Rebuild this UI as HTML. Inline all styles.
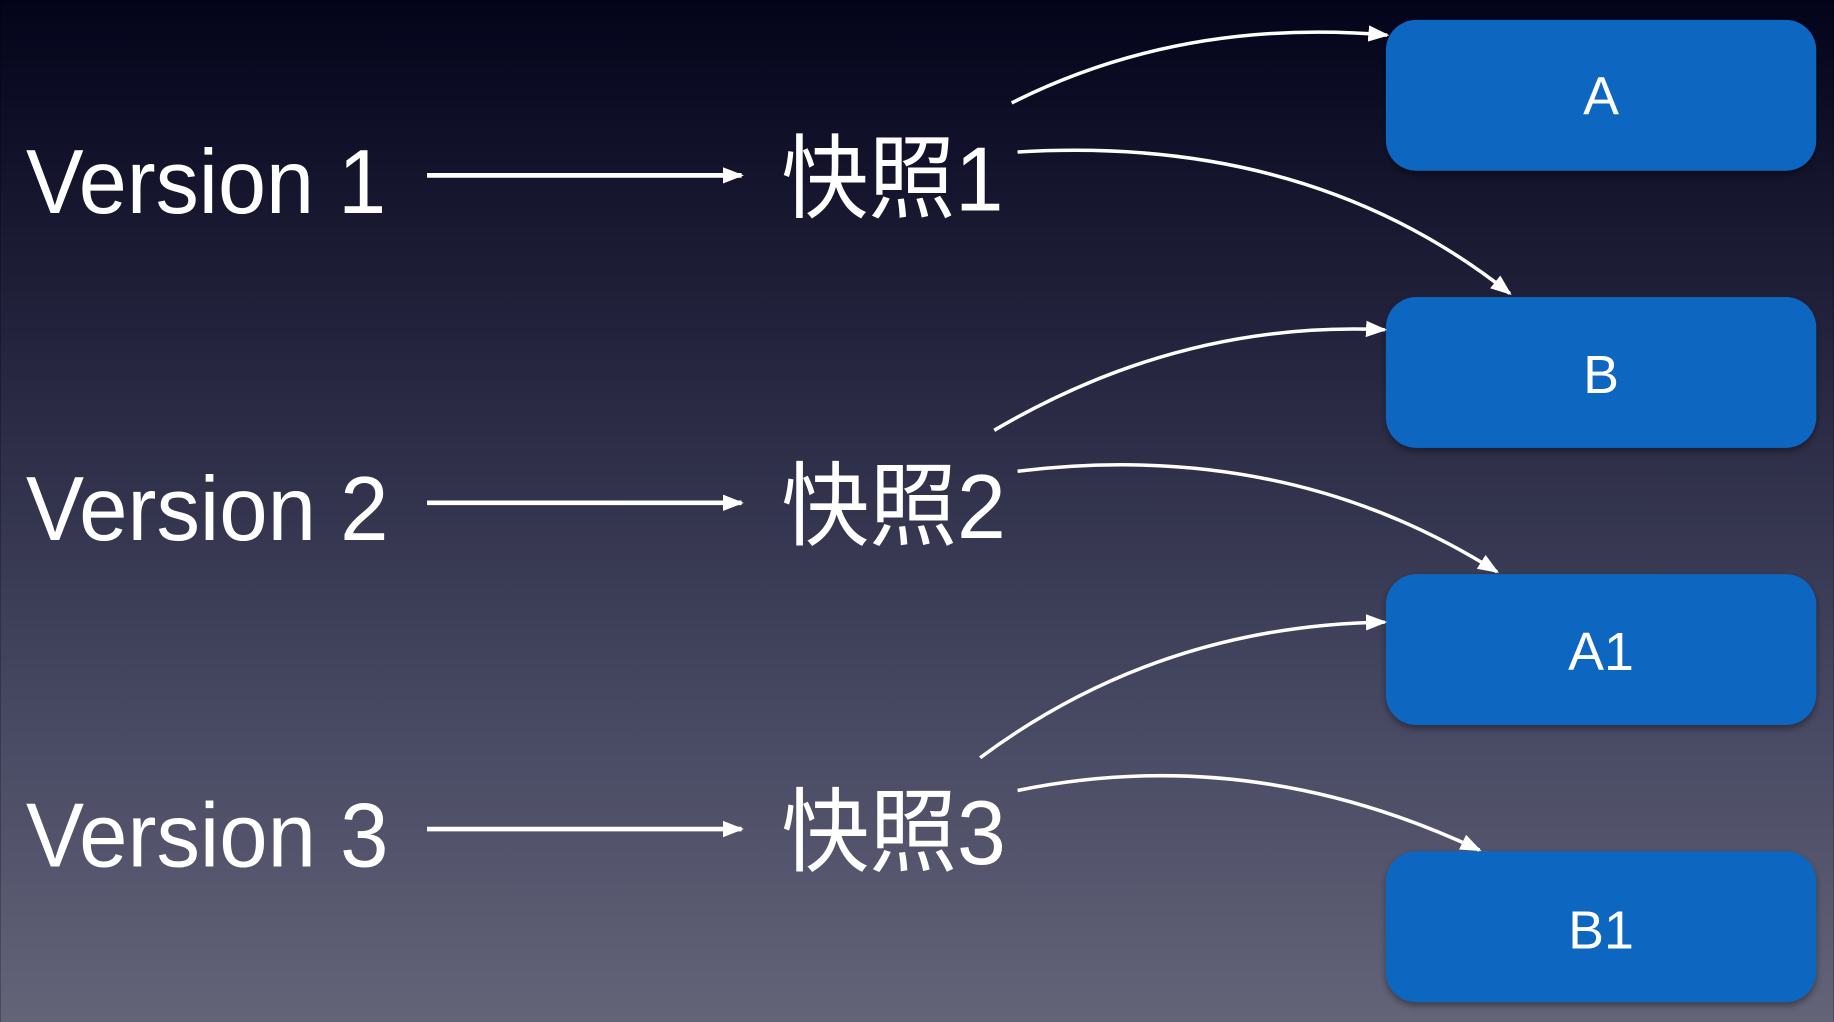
<!DOCTYPE html>
<html><head><meta charset="utf-8"><style>
html,body{margin:0;padding:0;width:1834px;height:1022px;overflow:hidden;background:#000}
svg{display:block}
text{font-family:"Liberation Sans","Noto Sans CJK SC",sans-serif;fill:#fff}
</style></head><body>
<svg width="1834" height="1022" viewBox="0 0 1568 874" xmlns="http://www.w3.org/2000/svg">
<defs>
<linearGradient id="bg" x1="0" y1="0" x2="0" y2="1">
<stop offset="0" stop-color="#03031a"/>
<stop offset="0.35" stop-color="#25253f"/>
<stop offset="0.7" stop-color="#474862"/>
<stop offset="1" stop-color="#636478"/>
</linearGradient>
<marker id="ah" markerWidth="10" markerHeight="10" refX="9" refY="5" orient="auto" markerUnits="userSpaceOnUse" viewBox="0 0 10 10">
<path d="M0,0 L10,5 L0,10 z" fill="#fff"/>
</marker>
<marker id="ah2" markerWidth="18" markerHeight="18" refX="16" refY="9" orient="auto" markerUnits="userSpaceOnUse" viewBox="0 0 18 18">
<path d="M0,2 L18,9 L0,16 z" fill="#fff"/>
</marker>
<filter id="sh" x="-10%" y="-10%" width="120%" height="130%">
<feDropShadow dx="0" dy="3" stdDeviation="3" flood-color="#000" flood-opacity="0.4"/>
</filter>
</defs>
<rect width="1568" height="874" fill="url(#bg)"/>

<g fill="#1166c0" filter="url(#sh)">
<rect x="1185" y="17" width="368" height="129" rx="26"/>
<rect x="1185" y="254" width="368" height="129" rx="26"/>
<rect x="1185" y="491" width="368" height="129" rx="26"/>
<rect x="1185" y="728" width="368" height="129" rx="26"/>
</g>
<g font-size="46" text-anchor="middle">
<text x="1369" y="98">A</text>
<text x="1369" y="336">B</text>
<text x="1369" y="573">A1</text>
<text x="1369" y="811">B1</text>
</g>

<g font-size="78">
<text x="22" y="182" textLength="308" lengthAdjust="spacingAndGlyphs">Version 1</text>
<text x="22" y="462" textLength="310" lengthAdjust="spacingAndGlyphs">Version 2</text>
<text x="22" y="741" textLength="310" lengthAdjust="spacingAndGlyphs">Version 3</text>
<text x="668" y="180" textLength="190" lengthAdjust="spacingAndGlyphs">快照1</text>
<text x="668" y="460" textLength="192" lengthAdjust="spacingAndGlyphs">快照2</text>
<text x="668" y="739" textLength="192" lengthAdjust="spacingAndGlyphs">快照3</text>
</g>

<g stroke="#fff" stroke-width="4" fill="none">
<line x1="365" y1="150" x2="634" y2="150" marker-end="url(#ah2)"/>
<line x1="365" y1="430" x2="634" y2="430" marker-end="url(#ah2)"/>
<line x1="365" y1="709" x2="634" y2="709" marker-end="url(#ah2)"/>
</g>
<g stroke="#fff" stroke-width="3" fill="none" marker-end="url(#ah2)">
<path d="M865,88 Q1010,15 1186,30"/>
<path d="M870,130 Q1120,115 1291,251"/>
<path d="M850,368 Q1010,274 1184,282"/>
<path d="M870,403 Q1100,375 1280,489"/>
<path d="M838,648 Q990,535 1184,532"/>
<path d="M870,676 Q1070,635 1265,727"/>
</g>
</svg>
</body></html>
